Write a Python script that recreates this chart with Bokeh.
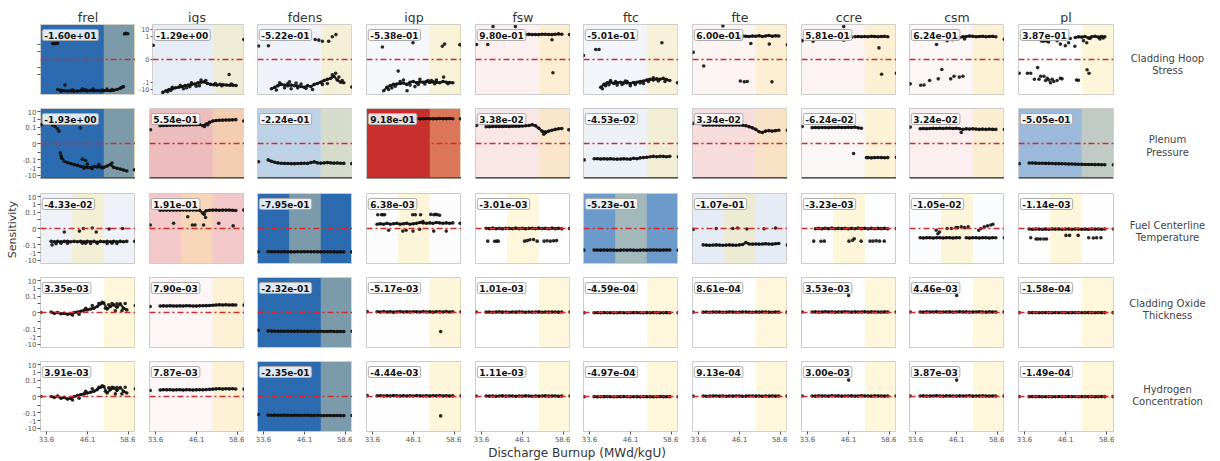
import math
from bokeh.plotting import figure
from bokeh.models import Range1d, Span, Label, BoxAnnotation, FixedTicker
from bokeh.layouts import row, column
from bokeh.embed import file_html
from bokeh.resources import INLINE
from bokeh.core.properties import value

N = None
# ---------------------------------------------------------------- data
params = ["frel", "igs", "fdens", "igp", "fsw", "ftc", "fte", "ccre", "csm", "pl"]
outputs = [("Cladding Hoop", "Stress"), ("Plenum", "Pressure"),
           ("Fuel Centerline", "Temperature"), ("Cladding Oxide", "Thickness"),
           ("Hydrogen", "Concentration")]
burnup = [35, 36, 37, 38, 39, 40, 41, 42, 43, 44, 45, 46, 47, 48, 49, 50, 51, 52, 53, 54, 55, 56, 57, 58]
x_ticks = [33.6, 46.1, 58.6]
y_ticks = [-10, -1, -0.1, -0.01, 0, 0.01, 0.1, 1, 10]
y_tick_labels = ["-10", "-1", "-0.1", "", "0", "", "0.1", "1", "10"]

sens_hoop = [-1.60e+01, -1.29e+00, -5.22e-01, -5.38e-01, 9.80e-01, -5.01e-01, 6.00e-01, 5.81e-01, 6.24e-01, 3.87e-01]
sens_plenum = [-1.93e+00, 5.54e-01, -2.24e-01, 9.18e-01, 3.38e-02, -4.53e-02, 3.34e-02, -6.24e-02, 3.24e-02, -5.05e-01]
sens_fct = [-4.33e-02, 1.91e-01, -7.95e-01, 6.38e-03, -3.01e-03, -5.23e-01, -1.07e-01, -3.23e-03, -1.05e-02, -1.14e-03]
sens_oxide = [3.35e-03, 7.90e-03, -2.32e-01, -5.17e-03, 1.01e-03, -4.59e-04, 8.61e-04, 3.53e-03, 4.46e-03, -1.58e-04]
sens_hydrogen = [3.91e-03, 7.87e-03, -2.35e-01, -4.44e-03, 1.11e-03, -4.97e-04, 9.13e-04, 3.00e-03, 3.87e-03, -1.49e-04]

hoop_main = {
    "frel": [N, N, -10, -13, -15, -16, -15, -17, -16, -15, -14, -16, -13, -15, -14, -16, -15, -14, -15, -13, -10, -7, -4, N],
    "igs": [-25, -15, -10, -8, -6, -5, -4, -3, -2.5, -2, -1.8, -1.2, -1, -0.9, -1.5, -2, -2.3, -2.5, -2, -2.2, -2.4, -2.6, -2.5, -2.8],
    "fdens": [N, -8, -5, -3, -2, -2.5, -3, -2.5, -3, -3.5, -4, -5, -3, -4, -2, -1.5, -1, -0.6, -0.4, -0.3, -0.15, -0.5, -1, -1.2],
    "igp": [N, N, -15, -5, -3, -2, -1.8, -1.5, -1.3, -2, -1, -0.8, -1.2, -0.9, -1, -0.8, -1.1, -0.9, -1, -1.2, -0.8, -1, -1.1, -1.2],
    "fsw": [N, N, N, N, N, N, N, N, N, N, N, N, 2.0, 2.2, 2.0, 2.1, 2.0, 2.2, 2.3, 2.1, 2.0, 2.2, 2.5, 2.2],
    "ftc": [N, N, -5, -2, -1.2, -1, -1.5, -1.2, -1, -1.3, -1.2, -1.5, -1.1, -1, -0.8, -0.7, -0.5, -0.4, -0.5, -0.35, -0.4, -0.3, -0.45, -0.6],
    "fte": [N, N, N, N, N, N, N, N, N, N, N, 1.0, 1.3, 1.2, 1.1, 1.3, 1.2, 1.4, 1.1, 1.3, 1.5, 1.2, 1.4, 1.3],
    "ccre": [N, N, N, N, N, N, N, N, N, N, N, N, N, 1.0, 1.1, 1.0, 1.1, 1.0, 1.2, 1.1, 1.0, 1.1, 1.2, 1.0],
    "csm": [N, N, N, N, N, N, N, N, N, N, N, N, 0.8, 1.0, 1.1, 1.3, 1.2, 1.0, 1.1, 1.2, 1.0, 1.1, 1.2, 1.0],
    "pl": [N, N, N, N, N, N, N, N, N, N, N, N, N, N, 0.8, 1.0, 0.9, 1.1, 0.7, 1.0, 1.2, 0.9, 1.1, 1.0],
}
hoop_extra = {
    "frel": [(35.5, 0.12), (36.0, 0.11), (36.5, 0.12), (37.0, 0.13), (57.3, 2.5), (57.8, 3.0), (58.3, 2.6), (39.2, -2.5), (44.5, -8), (47.8, -9), (52.0, -9), (38.0, -18), (41.5, -11), (45.5, -11), (50.5, -12), (53.5, -10), (56.5, -5)],
    "igs": [(32.0, 0.07), (60.4, 0.43), (36.5, -20), (37.5, -14), (38.0, -5), (40.5, -3), (41.5, -8), (42.5, -6), (43.5, -4), (44.0, -1.2), (45.5, -3.5), (46.5, -3), (47.0, -0.5), (48.5, -0.6), (55.8, -0.09), (51.5, -1.5), (53.5, -3), (56.5, -1.8)],
    "fdens": [(32.1, 0.055), (35.1, 0.06), (39.8, 0.43), (49.3, 0.43), (50.4, 0.35), (51.5, 0.25), (53.4, 0.25), (54.5, 1.0), (55.6, 2.0), (60.4, -4.5), (37.5, -12), (38.5, -1.2), (40, -6), (41, -1.5), (42, -8), (44, -6), (45, -1.8), (46.5, -7), (48.5, -10), (51.5, -2), (53, -1.5), (54.5, -0.1), (55.5, -0.06), (56.5, -0.2), (57.5, -0.6), (41.5, -0.9), (43.5, -1.3)],
    "igp": [(36.6, 0.04), (45.9, 0.15), (54.8, 0.05), (55.5, 0.1), (60.1, 0.08), (41.4, -0.03), (44.1, -15), (39.5, -6), (43, -0.5), (46.5, -4), (48, -0.4), (50.5, -0.6), (53, -0.5), (55.2, -0.2), (38.5, -10), (40.5, -3.5), (42, -0.8), (45, -2.5), (47.5, -2), (49.5, -1.8), (51.5, -0.6), (52.5, -1.6), (56.5, -1.6)],
    "fsw": [(32.1, 0.09), (35.5, 0.09), (37.1, 25), (43.9, 25), (55.3, -0.05), (55.0, 0.4), (60.3, 2.0)],
    "ftc": [(31.8, 0.005), (35.5, 0.018), (36.5, 0.018), (47.2, 0.6), (55.6, 0.15), (38.5, -3), (40, -0.6), (42, -2.5), (44.5, -0.7), (46, -3), (50, -1.5), (53, -0.25), (56.5, -0.8), (60.3, -1.2), (37.5, -8), (39.5, -2.2), (41.5, -0.8), (43.5, -2), (45, -0.8), (47.5, -2), (49, -1.3), (51.5, -0.8), (54.5, -0.7)],
    "fte": [(32, 0.009), (35.2, -0.008), (41, 30), (49.5, 0.12), (55.1, 0.1), (60.6, 0.08), (46.3, -0.7), (47.5, -0.9), (48.4, -0.8), (55.9, -0.9), (46.5, 0.6), (44.5, 0.9)],
    "ccre": [(32, 0.3), (35.3, 0.25), (44.6, 25), (44.6, 0.35), (55.3, 0.03), (56.1, -0.08), (60.6, -0.06), (47, 0.9), (46.5, 1.0)],
    "csm": [(32, -1.7), (40, 0.09), (43.2, 0.3), (44.8, 0.4), (46.4, 0.45), (48.5, 0.5), (60.6, 0.45), (35.2, -2.6), (36.2, -2.4), (37.9, -0.6), (40.5, -0.35), (41.6, -0.018), (44.3, -0.35), (45.3, -0.15), (46.9, -0.2), (48, -0.15)],
    "pl": [(38.7, 0.3), (39.2, 0.25), (39.8, 0.3), (40.3, 0.28), (40.9, 0.2), (43.5, 0.3), (44.5, 0.1), (46, 0.06), (47, 0.15), (48.9, 0.05), (47.5, 0.6), (51.5, 0.3), (52.5, 0.15), (53.5, 0.6), (56.5, 0.5), (57.5, 0.7), (32, -0.06), (34.5, -0.06), (35.5, -0.06), (37.6, -0.01), (36.6, -0.4), (38, -0.4), (38.5, -0.15), (39.5, -0.15), (40, -0.6), (40.5, -0.3), (41, -0.5), (41.5, -1.2), (42, -0.4), (42.5, -0.8), (43.5, -0.6), (44.5, -0.3), (45, -0.35), (49.4, -0.5), (50, -0.55), (52.6, -0.02), (53.2, -0.06)],
}

plenum_main = {
    "frel": [N, N, N, -0.03, -0.15, -0.22, -0.3, -0.4, -0.5, -0.7, -0.8, -0.9, -1.0, -0.7, -0.8, -0.75, -0.9, -0.6, -0.4, -0.9, -1.2, -1.5, -2.0, -2.6],
    "igs": [0.15, 0.16, 0.16, 0.17, 0.17, 0.18, 0.18, 0.18, 0.19, 0.19, 0.2, 0.2, 0.21, 0.15, 0.25, 0.4, 0.6, 0.7, 0.75, 0.78, 0.8, 0.82, 0.85, 0.9],
    "fdens": [-0.1, -0.15, -0.2, -0.24, -0.27, -0.28, -0.29, -0.3, -0.3, -0.29, -0.28, -0.27, -0.28, -0.22, -0.18, -0.24, -0.26, -0.24, -0.22, -0.24, -0.26, -0.25, -0.27, -0.28],
    "igp": [1.1, 1.1, 1.15, 1.1, 1.2, 1.15, 1.1, 1.2, 1.15, 1.2, 1.1, 1.25, 1.2, 1.15, 1.2, 1.25, 1.2, 1.15, 1.2, 1.25, 1.2, 1.2, 1.25, 1.2],
    "fsw": [0.11, 0.11, 0.12, 0.12, 0.12, 0.12, 0.13, 0.12, 0.13, 0.13, 0.13, 0.14, 0.15, 0.16, 0.2, 0.15, 0.07, 0.03, 0.018, 0.03, 0.04, 0.05, 0.06, 0.065],
    "ftc": [-0.07, -0.07, -0.075, -0.07, -0.075, -0.07, -0.075, -0.08, -0.075, -0.07, -0.075, -0.08, -0.06, -0.07, -0.055, -0.05, -0.045, -0.04, -0.035, -0.04, -0.035, -0.035, -0.04, -0.035],
    "fte": [0.18, 0.18, 0.19, 0.18, 0.19, 0.18, 0.19, 0.18, 0.19, 0.18, 0.19, 0.18, 0.17, 0.15, 0.11, 0.08, 0.05, 0.025, 0.02, 0.03, 0.035, 0.03, 0.035, 0.04],
    "ccre": [0.085, 0.09, 0.085, 0.09, 0.09, 0.085, 0.09, 0.09, 0.095, 0.09, 0.09, 0.095, 0.09, 0.1, 0.08, 0.07, N, -0.05, -0.055, -0.05, -0.048, -0.05, -0.052, -0.05],
    "csm": [0.06, 0.065, 0.06, 0.065, 0.07, 0.065, 0.07, 0.065, 0.07, 0.07, 0.065, 0.07, 0.06, 0.05, 0.06, 0.055, 0.06, 0.055, 0.05, 0.055, 0.05, 0.055, 0.05, 0.05],
    "pl": [-0.25, -0.25, -0.26, -0.27, -0.27, -0.28, -0.28, -0.29, -0.3, -0.3, -0.31, -0.32, -0.33, -0.34, -0.35, -0.36, -0.37, -0.38, -0.38, -0.39, -0.4, -0.4, -0.41, -0.42],
}
plenum_extra = {
    "frel": [(32, 0.2), (35.5, 0.17), (36.2, 0.12), (36.9, 0.06), (37.4, 0.03), (43.9, 0.08), (37.8, -0.012), (38.2, -0.06), (44.5, -0.08), (45.5, -0.12), (46, -0.35), (47.5, -1.3), (49.5, -0.4), (60.3, -1.8), (45, -1.2), (50.5, -1.1), (53.5, -0.25)],
    "igs": [(32.1, 0.046), (60.4, 0.6), (48.5, 0.12), (49.5, 0.2)],
    "fdens": [(32.1, -0.17), (60.4, -0.3)],
    "igp": [(60.3, 1.2)],
    "fsw": [(32.1, 0.16), (60.1, 0.045), (52.5, 0.012), (53, 0.025)],
    "ftc": [(32, -0.1), (60.6, -0.04)],
    "fte": [(32, 0.3), (60.6, 0.04)],
    "ccre": [(32, 0.12), (47.6, -0.015), (51.5, -0.05), (60.6, -0.045)],
    "csm": [(32, 0.1), (47.5, 0.02), (60.6, 0.05)],
    "pl": [(32, -0.3), (60.6, -0.42)],
}

fct_main = {
    "frel": [-0.035, -0.04, -0.035, -0.04, -0.035, -0.035, -0.04, -0.035, -0.04, -0.035, -0.04, -0.035, -0.04, -0.035, -0.045, -0.035, -0.04, -0.035, -0.04, -0.035, -0.04, -0.035, -0.04, -0.035],
    "igs": [0.17, 0.18, 0.18, 0.18, 0.18, 0.18, 0.18, 0.19, 0.18, 0.18, 0.18, 0.18, 0.17, 0.07, 0.15, 0.17, 0.18, 0.18, 0.17, 0.18, 0.18, 0.18, 0.17, 0.16],
    "fdens": [-0.75, -0.76, -0.78, -0.77, -0.78, -0.77, -0.78, -0.79, -0.78, -0.77, -0.78, -0.77, -0.76, -0.78, -0.77, -0.78, -0.79, -0.78, -0.77, -0.78, -0.79, -0.8, -0.78, -0.79],
    "igp": [0.005, 0.0055, 0.005, 0.006, 0.005, 0.0055, 0.006, 0.005, 0.0055, 0.006, 0.005, 0.0055, 0.006, 0.007, 0.0065, 0.006, 0.0065, 0.006, 0.007, 0.0065, 0.006, 0.0065, 0.006, 0.0065],
    "fsw": [0.0003, -0.0002, 0.0004, -0.0003, 0.0002, -0.0004, 0.0003, 0.0001, -0.0003, 0.0004, -0.0002, 0.0003, -0.0004, 0.0002, 0.0003, -0.0003, 0.0004, -0.0001, 0.0002, -0.0003, 0.0004, -0.0002, 0.0003, -0.0004],
    "ftc": [-0.45, -0.46, -0.47, -0.46, -0.47, -0.46, -0.47, -0.48, -0.47, -0.46, -0.47, -0.46, -0.47, -0.48, -0.47, -0.46, -0.47, -0.46, -0.45, -0.46, -0.47, -0.46, -0.45, -0.46],
    "fte": [-0.1, -0.105, -0.11, -0.105, -0.1, -0.105, -0.11, -0.105, -0.1, -0.105, -0.11, -0.1, -0.09, -0.05, -0.075, -0.08, -0.075, -0.08, -0.075, -0.07, -0.075, -0.08, -0.07, -0.065],
    "ccre": [N, -0.0003, 0.0002, -0.0004, 0.0003, -0.0002, 0.0004, -0.0003, 0.0002, -0.0001, 0.0003, -0.0004, 0.0002, -0.0003, 0.0004, -0.0002, 0.0003, -0.0004, 0.0002, -0.0003, 0.0001, -0.0002, 0.0003, -0.0004],
    "csm": [-0.012, -0.013, -0.012, -0.012, -0.013, -0.012, -0.012, -0.013, -0.012, -0.012, -0.013, -0.012, -0.012, N, -0.012, -0.013, -0.012, -0.012, -0.013, -0.012, -0.012, -0.013, -0.012, -0.012],
    "pl": [-0.0006, -0.0008, -0.0005, -0.0007, -0.0009, -0.0006, -0.0008, -0.0005, -0.0007, -0.0006, -0.0009, -0.0007, -0.0005, -0.0008, -0.0006, -0.0007, -0.0009, -0.0005, -0.0008, -0.0006, -0.0007, -0.0005, -0.0008, -0.0006],
}
fct_extra = {
    "frel": [(35.3, -0.1), (36.5, -0.07), (38, -0.06), (39, -0.004), (43.6, -0.003), (44.8, 0.0), (47.5, 0.0005), (48.7, -0.004), (52.6, -0.0005), (56.7, 0.0), (40, -0.06), (44.5, -0.06), (47, -0.065), (49, -0.06), (52, -0.065), (53.5, -0.06), (55, -0.065), (45.5, -0.06), (60.4, -0.035)],
    "igs": [(32, 0.004), (39.1, 0.006), (43.4, 0.025), (44.8, 0.004), (45.6, 0.004), (48.2, 0.004), (48.8, 0.02), (52.8, 0.006), (57.2, 0.003), (60.4, 0.18), (48.4, 0.05)],
    "fdens": [(32, -0.77), (60.4, -0.78)],
    "igp": [(35.2, 0.045), (36.3, 0.045), (36.8, 0.045), (37.3, 0.045), (45.8, 0.045), (46.6, 0.045), (48.2, 0.045), (51.3, 0.05), (52.2, 0.045), (52.8, 0.05), (53.3, 0.045), (54, 0.04), (38.5, -0.002), (42.8, -0.003), (43.8, -0.002), (45.9, -0.003), (47.9, -0.001), (52.2, -0.003), (56, -0.003), (60.2, 0.006), (48.9, 0.008)],
    "fsw": [(35.5, -0.033), (37.6, -0.033), (38.2, -0.033), (38.7, -0.033), (46.7, -0.033), (47.5, -0.028), (48.3, -0.022), (49.4, -0.02), (50.5, -0.033), (52.6, -0.033), (53.5, -0.03), (54.5, -0.033), (55.5, -0.03), (56.4, -0.028), (60.3, 0.0)],
    "ftc": [(31.9, -0.47), (60.6, -0.47)],
    "fte": [(39, 0.0), (44, 0.0), (45.5, 0.0005), (48.3, -0.0005), (53.5, -0.0003), (57, 0.0005), (60.6, -0.1), (32, -0.001)],
    "ccre": [(35.5, -0.033), (37.7, -0.033), (38.7, -0.033), (46.2, -0.033), (47.3, -0.025), (47.8, -0.016), (49.9, -0.033), (52.6, -0.033), (53.5, -0.033), (54.5, -0.03), (55.5, -0.033), (56.9, -0.033), (60.6, 0.0)],
    "csm": [(39.9, -0.002), (40.4, -0.006), (40.9, -0.004), (43.2, 0.0), (44.5, 0.0), (45.9, 0.001), (46.4, 0.001), (47.5, 0.002), (48.5, 0.001), (49.6, 0.002), (52.8, -0.002), (53.5, 0.0), (54.5, 0.002), (55.5, 0.003), (56.5, 0.004), (57.1, 0.005), (60.6, -0.012)],
    "pl": [(35.5, -0.012), (37.1, -0.017), (37.7, -0.017), (38.5, -0.017), (39.5, -0.017), (40.3, -0.017), (46.2, -0.008), (47.3, -0.008), (49.9, -0.008), (53.1, -0.012), (54.5, -0.013), (55.5, -0.012), (56.8, -0.012), (60.6, -0.0006)],
}

oxide_main = {
    "frel": [0.0005, -0.001, 0.0, -0.0015, -0.001, -0.002, -0.0015, 0.0, 0.0005, 0.0015, 0.0025, 0.003, 0.004, 0.005, 0.007, 0.01, 0.013, 0.004, 0.007, 0.009, 0.006, 0.01, 0.005, 0.003],
    "igs": [0.0075, 0.0077, 0.0076, 0.0078, 0.0076, 0.0075, 0.0077, 0.0076, 0.0078, 0.0077, 0.0076, 0.0075, 0.0077, 0.0078, 0.0079, 0.0081, 0.0084, 0.0087, 0.0089, 0.0086, 0.0089, 0.0087, 0.0088, 0.0086],
    "fdens": [-0.18, -0.19, -0.19, -0.2, -0.19, -0.2, -0.19, -0.2, -0.2, -0.19, -0.2, -0.2, -0.21, -0.2, -0.2, -0.21, -0.2, -0.21, -0.21, -0.2, -0.21, -0.22, -0.21, -0.22],
    "igp": [0.0008, 0.0005, 0.001, 0.0006, 0.0009, 0.0004, 0.0007, 0.001, 0.0005, 0.0008, 0.0006, 0.0009, 0.0007, 0.0005, 0.001, 0.0006, 0.0008, 0.0004, 0.0009, 0.0007, 0.0006, 0.001, 0.0005, 0.0008],
    "fsw": [0.0004, 0.0006, 0.0003, 0.0005, 0.0007, 0.0004, 0.0006, 0.0003, 0.0005, 0.0004, 0.0007, 0.0005, 0.0003, 0.0006, 0.0004, 0.0005, 0.0007, 0.0003, 0.0006, 0.0004, 0.0005, 0.0006, 0.0004, 0.0005],
    "ftc": [-0.0003, -0.0002, -0.0004, -0.0001, -0.0003, -0.0002, -0.0004, -0.0003, -0.0001, -0.0002, -0.0004, -0.0003, -0.0002, -0.0001, -0.0003, -0.0004, -0.0002, -0.0003, -0.0001, -0.0002, -0.0004, -0.0003, -0.0002, -0.0003],
    "fte": [0.0004, 0.0005, 0.0003, 0.0006, 0.0004, 0.0005, 0.0003, 0.0004, 0.0006, 0.0005, 0.0003, 0.0004, 0.0005, 0.0006, 0.0004, 0.0003, 0.0005, 0.0004, 0.0006, 0.0005, 0.0004, 0.0003, 0.0005, 0.0004],
    "ccre": [0.0005, 0.0007, 0.0004, 0.0006, 0.0008, 0.0005, 0.0007, 0.0004, 0.0006, 0.0005, 0.0008, 0.0006, 0.0004, 0.0007, 0.0005, 0.0006, 0.0008, 0.0004, 0.0007, 0.0005, 0.0006, 0.0004, 0.0007, 0.0005],
    "csm": [0.0006, 0.0004, 0.0007, 0.0005, 0.0006, 0.0008, 0.0004, 0.0006, 0.0005, 0.0007, 0.0004, 0.0006, 0.0008, 0.0005, 0.0007, 0.0004, 0.0006, 0.0005, 0.0008, 0.0006, 0.0004, 0.0007, 0.0005, 0.0006],
    "pl": [-0.0001, -0.0002, -0.0001, -0.0003, -0.0002, -0.0001, -0.0002, -0.0003, -0.0001, -0.0002, -0.0001, -0.0002, -0.0003, -0.0001, -0.0002, -0.0001, -0.0003, -0.0002, -0.0001, -0.0002, -0.0003, -0.0001, -0.0002, -0.0001],
}
oxide_extra = {
    "frel": [(31.9, 0.0), (60.6, 0.008), (45.5, 0.005), (47.5, 0.008), (49.5, 0.011), (50.5, 0.016), (51.5, 0.005), (52.5, 0.009), (53.5, 0.011), (54.5, 0.002), (55, 0.01), (56.5, 0.002), (57.5, 0.011), (41.5, -0.003), (43.5, -0.002)],
    "igs": [(32, 0.007), (60.5, 0.0085)],
    "fdens": [(32, -0.15), (60.5, -0.2)],
    "igp": [(32, 0.001), (54.3, -0.22), (60.5, 0.0008)],
    "fsw": [(32, 0.0005), (60.5, 0.0005)],
    "ftc": [(32, -0.0003), (60.5, -0.0003)],
    "fte": [(32, 0.0004), (60.5, 0.0004)],
    "ccre": [(32, 0.0005), (46.1, 0.12), (60.5, 0.0005)],
    "csm": [(32, 0.0006), (46.1, 0.12), (60.5, 0.0006)],
    "pl": [(32, -0.0001), (60.5, -0.0002)],
}

hydrogen_main = {
    "frel": [0.0, -0.001, 0.0005, -0.002, -0.001, -0.003, -0.002, 0.0, 0.001, 0.002, 0.003, 0.004, 0.005, 0.006, 0.008, 0.012, 0.015, 0.004, 0.008, 0.01, 0.007, 0.011, 0.006, 0.004],
    "igs": [0.0076, 0.0078, 0.0077, 0.0078, 0.0076, 0.0077, 0.0078, 0.0076, 0.0078, 0.0077, 0.0076, 0.0077, 0.0078, 0.0077, 0.008, 0.0082, 0.0085, 0.0088, 0.009, 0.0087, 0.009, 0.0088, 0.0089, 0.0087],
    "fdens": [-0.19, -0.2, -0.19, -0.2, -0.2, -0.19, -0.2, -0.21, -0.2, -0.2, -0.21, -0.2, -0.2, -0.21, -0.21, -0.2, -0.21, -0.22, -0.21, -0.21, -0.22, -0.21, -0.22, -0.22],
    "igp": [0.0007, 0.0009, 0.0005, 0.0008, 0.0006, 0.001, 0.0007, 0.0005, 0.0009, 0.0006, 0.0008, 0.0005, 0.001, 0.0007, 0.0006, 0.0009, 0.0005, 0.0008, 0.0007, 0.001, 0.0006, 0.0008, 0.0005, 0.0007],
    "fsw": [0.0005, 0.0004, 0.0006, 0.0003, 0.0005, 0.0007, 0.0004, 0.0005, 0.0006, 0.0003, 0.0005, 0.0004, 0.0007, 0.0005, 0.0003, 0.0006, 0.0004, 0.0005, 0.0007, 0.0004, 0.0006, 0.0005, 0.0003, 0.0005],
    "ftc": [-0.0002, -0.0004, -0.0003, -0.0002, -0.0001, -0.0003, -0.0004, -0.0002, -0.0003, -0.0001, -0.0002, -0.0004, -0.0003, -0.0002, -0.0004, -0.0001, -0.0003, -0.0002, -0.0004, -0.0003, -0.0001, -0.0002, -0.0003, -0.0002],
    "fte": [0.0005, 0.0003, 0.0004, 0.0006, 0.0005, 0.0004, 0.0006, 0.0003, 0.0005, 0.0004, 0.0006, 0.0005, 0.0003, 0.0004, 0.0006, 0.0005, 0.0004, 0.0006, 0.0003, 0.0005, 0.0004, 0.0006, 0.0004, 0.0005],
    "ccre": [0.0006, 0.0004, 0.0007, 0.0005, 0.0006, 0.0004, 0.0008, 0.0005, 0.0007, 0.0004, 0.0006, 0.0005, 0.0007, 0.0004, 0.0006, 0.0008, 0.0005, 0.0006, 0.0004, 0.0007, 0.0005, 0.0006, 0.0004, 0.0006],
    "csm": [0.0005, 0.0007, 0.0004, 0.0006, 0.0005, 0.0008, 0.0006, 0.0004, 0.0007, 0.0005, 0.0006, 0.0004, 0.0007, 0.0006, 0.0005, 0.0008, 0.0004, 0.0006, 0.0005, 0.0007, 0.0006, 0.0004, 0.0006, 0.0005],
    "pl": [-0.0002, -0.0001, -0.0002, -0.0001, -0.0003, -0.0002, -0.0001, -0.0002, -0.0003, -0.0001, -0.0002, -0.0003, -0.0001, -0.0002, -0.0001, -0.0003, -0.0002, -0.0001, -0.0002, -0.0001, -0.0003, -0.0002, -0.0001, -0.0002],
}
hydrogen_extra = {
    "frel": [(31.9, 0.0), (60.6, 0.009), (45.5, 0.006), (47.5, 0.009), (49.5, 0.012), (50.5, 0.018), (51.5, 0.006), (52.5, 0.01), (53.5, 0.012), (54.5, 0.003), (55, 0.011), (56.5, 0.003), (57.5, 0.012), (41.5, -0.004), (43.5, -0.002)],
    "igs": [(32, 0.007), (60.5, 0.0085)],
    "fdens": [(32, -0.16), (60.5, -0.21)],
    "igp": [(32, 0.001), (54.3, -0.24), (60.5, 0.0008)],
    "fsw": [(32, 0.0005), (60.5, 0.0005)],
    "ftc": [(32, -0.0003), (60.5, -0.0003)],
    "fte": [(32, 0.0004), (60.5, 0.0004)],
    "ccre": [(32, 0.0005), (46.1, 0.1), (60.5, 0.0005)],
    "csm": [(32, 0.0006), (46.1, 0.1), (60.5, 0.0006)],
    "pl": [(32, -0.0001), (60.5, -0.0002)],
}

SENS = [sens_hoop, sens_plenum, sens_fct, sens_oxide, sens_hydrogen]
MAIN = [hoop_main, plenum_main, fct_main, oxide_main, hydrogen_main]
EXTRA = [hoop_extra, plenum_extra, fct_extra, oxide_extra, hydrogen_extra]
for mset in MAIN:
    for k, v in mset.items():
        if len(v) != len(burnup):
            raise ValueError(k + " has %d values" % len(v))

# ---------------------------------------------------------------- styles
BG = [
    ["#2c6bb0", "#e6edf6", "#eff3f9", "#f6f7fb", "#fcf0f0", "#f2f5fa", "#fcf3f3", "#fcf4f4", "#fcf6f6", "#fefefe"],
    ["#2c6bb0", "#edbcbc", "#bed2e7", "#c7302c", "#f9e6e6", "#ecf1f7", "#f6dcdc", "#fcf7f7", "#fbefef", "#9bb9db"],
    ["#eef2f8", "#f2c8c8", "#2c6bb0", "#fcfcfc", "#ffffff", "#6b9acb", "#e5ecf5", "#fdfdfd", "#fbfcfd", "#fefefe"],
    ["#ffffff", "#fcf6f6", "#2c6bb0", "#fdfdfd", "#ffffff", "#ffffff", "#ffffff", "#ffffff", "#ffffff", "#ffffff"],
    ["#ffffff", "#fcf6f6", "#2c6bb0", "#fdfdfd", "#ffffff", "#ffffff", "#ffffff", "#ffffff", "#ffffff", "#ffffff"],
]
YELLOW, YELLOW_ALPHA = "#fde9a0", 0.38
XLIM = (31.78, 60.63)
BAND_EDGES = (41.4, 51.0)
FONT = "DejaVu Sans"
ZERO_RED = "#d02a2a"

LT = 0.01
ADJ = 1.0 / (1.0 - 0.1)


def symlog(v):
    a = abs(v)
    if a <= LT:
        return v / LT * ADJ
    return math.copysign(ADJ + math.log10(a / LT), v)


# geometry (page pixels; the page has no body margin)
FL = [40, 149, 257, 366, 475, 583, 692, 801, 909, 1018]
FT = [24, 108, 193, 277, 361]
FW, FH = 95, 70
cell_left = [19] + [FL[i - 1] + FW for i in range(1, 10)]
cell_right = [FL[i] + FW for i in range(9)] + [FL[9] + FW + 1]
cell_bottom = [FT[1], FT[2], FT[3], FT[4], FT[4] + FH + 14]


def style_axis(ax, size="7px", tick_out=3, standoff=1):
    ax.axis_line_color = None
    ax.major_tick_line_color = "#555555"
    ax.major_tick_out = tick_out
    ax.major_tick_in = 0
    ax.minor_tick_out = 0
    ax.minor_tick_in = 0
    ax.major_label_text_font = FONT
    ax.major_label_text_font_size = size
    ax.major_label_text_color = "#555555"
    ax.major_label_standoff = standoff


def panel(r, c):
    yr = 4.8 if r == 0 else 4.5
    bl = FL[c] - cell_left[c]
    br = cell_right[c] - (FL[c] + FW)
    bb = cell_bottom[r] - (FT[r] + FH)
    p = figure(width=bl + FW + br, height=FH + bb,
               x_range=Range1d(*XLIM), y_range=Range1d(-yr, yr),
               output_backend="svg", toolbar_location=None, tools="",
               min_border=0, min_border_left=bl, min_border_right=br,
               min_border_top=0, min_border_bottom=bb,
               background_fill_color=BG[r][c], border_fill_color="white",
               outline_line_color="#cccccc", outline_line_width=1)
    p.grid.visible = False
    if r == 2:
        p.add_layout(BoxAnnotation(left=BAND_EDGES[0], right=BAND_EDGES[1], fill_color=YELLOW,
                                   fill_alpha=YELLOW_ALPHA, line_color=None, level="underlay"))
    else:
        p.add_layout(BoxAnnotation(left=BAND_EDGES[1], right=XLIM[1] + 1, fill_color=YELLOW,
                                   fill_alpha=YELLOW_ALPHA, line_color=None, level="underlay"))
    name = params[c]
    main = MAIN[r][name]
    extra = EXTRA[r][name]
    # dense main track: thin connecting line + dots
    lx = [b for b in burnup]
    ly = [symlog(v) if v is not None else float("nan") for v in main]
    p.line(lx, ly, line_width=2.4, line_color="#111111", line_alpha=0.85)
    xs = [b for b, v in zip(burnup, main) if v is not None] + [e[0] for e in extra]
    ys = [symlog(v) for v in main if v is not None] + [symlog(e[1]) for e in extra]
    p.scatter(xs, ys, size=3.6, marker="circle", fill_color="#111111", line_color=None, fill_alpha=0.9)
    p.add_layout(Span(location=0, dimension="width", line_color=ZERO_RED, line_width=1.3,
                      line_dash="6 3 2 3", line_alpha=1.0))
    if r == 1:
        p.add_layout(Span(location=-yr, dimension="width", line_color="#555555", line_width=3))
    px_per_unit = FH / (2 * yr)
    p.add_layout(Label(x=XLIM[0] + 0.55, y=yr - 5.0 / px_per_unit, text="%.2e" % SENS[r][c],
                       text_font=FONT, text_font_size="9px", text_font_style="bold",
                       text_color="#111111", text_align="left", text_baseline="top",
                       background_fill_color="white", background_fill_alpha=0.85,
                       border_line_color="#aaaaaa", border_line_width=1,
                       padding=2, border_radius=2))
    if r == 4:
        p.xaxis.ticker = FixedTicker(ticks=x_ticks)
        style_axis(p.xaxis[0])
    else:
        p.xaxis.visible = False
    if c == 0 and r > 0:
        tks = [symlog(v) for v in y_ticks]
        p.yaxis.ticker = FixedTicker(ticks=tks, minor_ticks=[])
        p.yaxis.major_label_overrides = {t: lab for t, lab in zip(tks, y_tick_labels)}
        style_axis(p.yaxis[0])
    elif c == 0 and r == 0:
        tks = [symlog(v) for v in [-0.1, -0.01, 0.01, 0.1]]
        p.yaxis.ticker = FixedTicker(ticks=tks, minor_ticks=[])
        p.yaxis.major_label_overrides = {t: "" for t in tks}
        style_axis(p.yaxis[0])
    elif c == 1 and r == 0:
        vals = [-10, -1, 0, 1, 10]
        tks = [symlog(v) for v in vals]
        p.yaxis.ticker = FixedTicker(ticks=tks, minor_ticks=[])
        p.yaxis.major_label_overrides = {t: str(v) for t, v in zip(tks, vals)}
        style_axis(p.yaxis[0], size="6.5px", tick_out=2, standoff=1)
    else:
        p.yaxis.visible = False
    return p


def text_fig(w, h, x0, x1, y0, y1):
    f = figure(width=w, height=h, x_range=Range1d(x0, x1), y_range=Range1d(y1, y0),
               output_backend="svg", toolbar_location=None, tools="", min_border=0,
               x_axis_type=None, y_axis_type=None, outline_line_color=None,
               background_fill_alpha=0, border_fill_alpha=0)
    f.grid.visible = False
    return f


grid_rows = []
for r in range(5):
    grid_rows.append(row([panel(r, c) for c in range(10)], spacing=0))
grid = column(grid_rows, spacing=0)

GRID_W = FL[9] + FW + 1 - 19
TOTAL_H = 460

title_fig = text_fig(GRID_W, FT[0], 19, 19 + GRID_W, 0, FT[0])
title_fig.text(x=[FL[c] + FW / 2 for c in range(10)], y=[17] * 10, text=params,
               text_font=value(FONT), text_font_size=value("12.5px"), text_color="#333333",
               text_align="center", text_baseline="alphabetic")

xl_top = cell_bottom[4]
xlab_fig = text_fig(GRID_W, TOTAL_H - xl_top, 19, 19 + GRID_W, xl_top, TOTAL_H)
xlab_fig.text(x=[(FL[0] + FL[9] + FW) / 2], y=[452], text=["Discharge Burnup (MWd/kgU)"],
              text_font=value(FONT), text_font_size=value("12px"), text_color="#333333",
              text_align="center", text_baseline="alphabetic")

middle = column([title_fig, grid, xlab_fig], spacing=0)

ylab_fig = text_fig(19, TOTAL_H, 0, 19, 0, TOTAL_H)
ylab_fig.text(x=[12], y=[229], text=["Sensitivity"], angle=math.pi / 2,
              text_font=value(FONT), text_font_size=value("11px"), text_color="#333333",
              text_align="center", text_baseline="middle")

RL_W = 1219 - (19 + GRID_W)
rlab_fig = text_fig(RL_W, TOTAL_H, 19 + GRID_W, 1219, 0, TOTAL_H)
row_centers = [64, 145.5, 231, 309, 395]
lx, ly, lt = [], [], []
for (a, b), yc in zip(outputs, row_centers):
    lx += [1167, 1167]
    ly += [yc - 6.25, yc + 6.25]
    lt += [a, b]
rlab_fig.text(x=lx, y=ly, text=lt, text_font=value(FONT), text_font_size=value("10px"),
              text_color="#444444", text_align="center", text_baseline="middle")

layout = row([ylab_fig, middle, rlab_fig], spacing=0)

with open("out.html", "w") as fh:
    fh.write(file_html(layout, INLINE, title="Sensitivity"))
